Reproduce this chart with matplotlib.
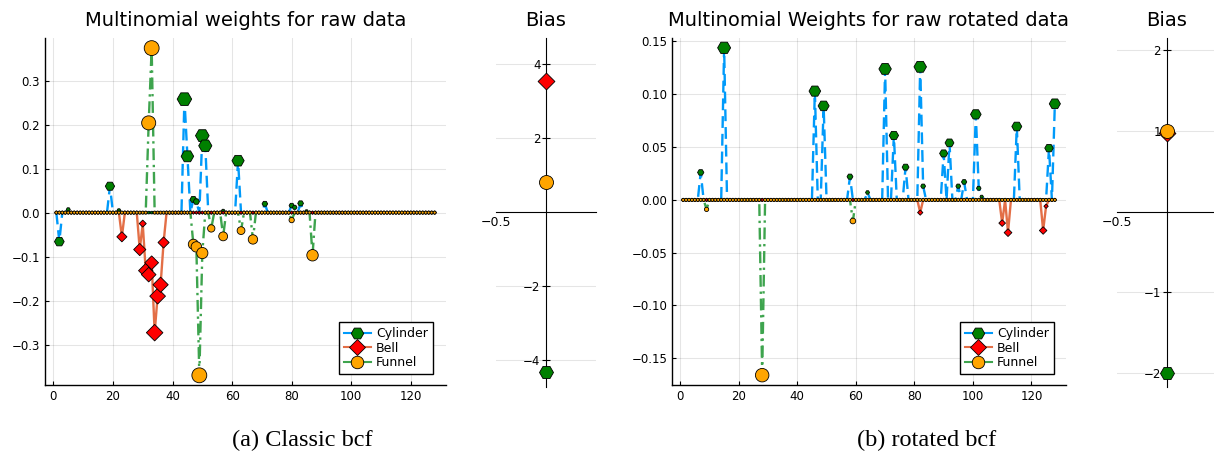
import numpy as np
import matplotlib

matplotlib.use("Agg")
import matplotlib.pyplot as plt
from matplotlib.lines import Line2D
from matplotlib.ticker import FuncFormatter

N = 128
series_names = ["Cylinder", "Bell", "Funnel"]

# classic bcf: non-zero weights (index, value), everything else is 0
raw_cyl_idx = [2, 5, 19, 22, 44, 45, 47, 48, 50, 51, 57, 62, 71, 80, 81, 83, 85]
raw_cyl_val = [-0.066, 0.007, 0.06, 0.005, 0.258, 0.128, 0.030, 0.025, 0.175,
               0.152, 0.004, 0.118, 0.020, 0.016, 0.012, 0.021, 0.003]
raw_bell_idx = [23, 29, 30, 31, 32, 33, 34, 35, 36, 37]
raw_bell_val = [-0.055, -0.084, -0.025, -0.132, -0.141, -0.114, -0.273, -0.19,
                -0.164, -0.068]
raw_fun_idx = [32, 33, 47, 48, 49, 50, 53, 57, 63, 67, 80, 87]
raw_fun_val = [0.204, 0.374, -0.072, -0.078, -0.37, -0.092, -0.036, -0.054,
               -0.041, -0.061, -0.017, -0.097]
raw_bias = [-4.32, 3.54, 0.81]

# rotated bcf
rot_cyl_idx = [7, 15, 46, 49, 58, 64, 70, 73, 77, 82, 83, 90, 92, 95, 97, 101,
               102, 103, 115, 126, 128]
rot_cyl_val = [0.026, 0.144, 0.103, 0.089, 0.022, 0.007, 0.124, 0.061, 0.031,
               0.126, 0.013, 0.044, 0.054, 0.013, 0.017, 0.081, 0.011, 0.003,
               0.0695, 0.049, 0.091]
rot_bell_idx = [82, 110, 112, 124, 125]
rot_bell_val = [-0.012, -0.022, -0.031, -0.029, -0.006]
rot_fun_idx = [9, 28, 59]
rot_fun_val = [-0.009, -0.166, -0.02]
rot_bias = [-2.0, 0.97, 1.0]

LINE_COLORS = ["#009AFA", "#E36F47", "#3EA44E"]
MARK_COLORS = ["green", "red", "orange"]
MARKERS = ["H", "D", "o"]
STYLES = [(0, (5, 2.5)), "-", (0, (5, 2, 1, 2))]


def full(idx, val):
    w = np.zeros(N)
    w[np.array(idx) - 1] = val
    return w


def msize(w, marker):
    d = 3 + 12 * (1 - np.exp(-np.abs(w) / 0.08))  # px
    if marker == "D":
        d = d * 0.8
    return (d * 0.72) ** 2


def fig_px(x0, x1, top, bottom):
    W, H = 1214, 459
    return [x0 / W, (H - bottom) / H, (x1 - x0) / W, (bottom - top) / H]


def weights_panel(ax, ws, title, fmt, ylim, ticks, leg_anchor):
    xs = np.arange(1, N + 1)
    for k, w in enumerate(ws):
        ax.plot(xs, w, color=LINE_COLORS[k], ls=STYLES[k], lw=1.7, zorder=2 + 2 * k)
        ax.scatter(xs, w, s=msize(w, MARKERS[k]), marker=MARKERS[k],
                   c=MARK_COLORS[k], edgecolors="black", linewidths=0.6,
                   zorder=3 + 2 * k)
    ax.set_xlim(-2.81, 131.81)
    ax.set_ylim(*ylim)
    ax.set_xticks([0, 20, 40, 60, 80, 100, 120])
    ax.set_yticks(ticks)
    ax.yaxis.set_major_formatter(FuncFormatter(lambda v, p: (fmt % v).replace("-", "\u2212")))
    ax.tick_params(direction="in", length=3, labelsize=8.5, width=0.8)
    for s in ["top", "right"]:
        ax.spines[s].set_visible(False)
    for s in ["left", "bottom"]:
        ax.spines[s].set_linewidth(1.0)
    ax.grid(True, color="#000000", alpha=0.1, lw=0.8)
    ax.set_axisbelow(True)
    ax.set_title(title, fontsize=14, pad=9)
    handles = [Line2D([], [], color=LINE_COLORS[k], ls="-", lw=1.5, marker=MARKERS[k],
                      markersize=9 if k != 1 else 8, markerfacecolor=MARK_COLORS[k],
                      markeredgecolor="black", markeredgewidth=0.6)
               for k in range(3)]
    ax.legend(handles, series_names, loc="lower right", bbox_to_anchor=leg_anchor,
              borderaxespad=0, fontsize=9, frameon=True, fancybox=False,
              edgecolor="black", framealpha=1, handlelength=2.2, labelspacing=0.1,
              borderpad=0.4, handletextpad=0.4)


def bias_panel(ax, b, ylim, ticks):
    for k in range(3):
        ax.scatter([0], [b[k]], s=(14 * 0.72 * (0.85 if MARKERS[k] == "D" else 1)) ** 2,
                   marker=MARKERS[k], c=MARK_COLORS[k], edgecolors="black",
                   linewidths=0.6, zorder=5 + k)
    ax.set_xlim(-0.5, 0.5)
    ax.set_ylim(*ylim)
    ax.spines["left"].set_position(("data", 0))
    ax.spines["bottom"].set_position(("data", 0))
    for s in ["top", "right"]:
        ax.spines[s].set_visible(False)
    ax.set_xticks([-0.5])
    ax.set_xticklabels(["\u22120.5"])
    ax.tick_params(axis="x", length=0, labelsize=9, pad=3)
    ax.set_yticks(ticks)
    ax.set_yticklabels([("%g" % t).replace("-", "\u2212") for t in ticks])
    ax.tick_params(axis="y", direction="inout", length=6, labelsize=8.5, width=0.8, pad=1)
    ax.yaxis.grid(True, color="#000000", alpha=0.1, lw=0.8)
    ax.set_axisbelow(True)
    ax.set_title("Bias", fontsize=14, pad=9)


fig = plt.figure(figsize=(12.14, 4.59), dpi=100)

ax1 = fig.add_axes(fig_px(45, 446, 38, 385))
weights_panel(ax1, [full(raw_cyl_idx, raw_cyl_val), full(raw_bell_idx, raw_bell_val),
                    full(raw_fun_idx, raw_fun_val)],
              "Multinomial weights for raw data", "%.1f", (-0.392, 0.397),
              [-0.3, -0.2, -0.1, 0.0, 0.1, 0.2, 0.3], (0.9676, 0.032))

ax2 = fig.add_axes(fig_px(496, 596, 38, 387))
bias_panel(ax2, raw_bias, (-4.73, 4.70), [-4, -2, 2, 4])

ax3 = fig.add_axes(fig_px(672, 1066, 38, 385))
weights_panel(ax3, [full(rot_cyl_idx, rot_cyl_val), full(rot_bell_idx, rot_bell_val),
                    full(rot_fun_idx, rot_fun_val)],
              "Multinomial Weights for raw rotated data", "%.2f", (-0.1753, 0.1533),
              [-0.15, -0.10, -0.05, 0.0, 0.05, 0.10, 0.15], (0.9695, 0.032))

ax4 = fig.add_axes(fig_px(1117, 1216, 38, 387))
bias_panel(ax4, rot_bias, (-2.17, 2.15), [-2, -1, 1, 2])

fig.text(302 / 1214, 1 - 440 / 459, "(a) Classic bcf", family="Liberation Serif",
         fontsize=17.5, ha="center", va="center")
fig.text(927 / 1214, 1 - 440 / 459, "(b) rotated bcf", family="Liberation Serif",
         fontsize=17.5, ha="center", va="center")

fig.savefig("out.png", dpi=100)
